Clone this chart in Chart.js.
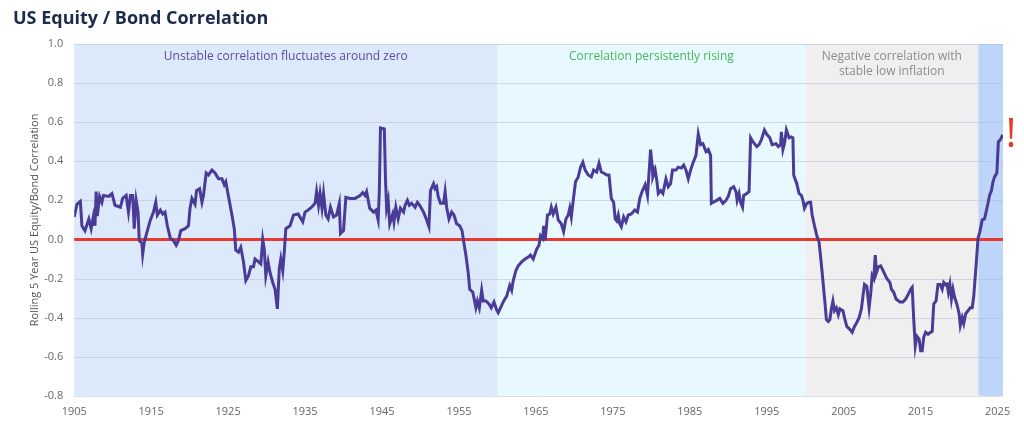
<!DOCTYPE html>
<html>
<head>
<meta charset="utf-8">
<script src="https://cdn.jsdelivr.net/npm/chart.js@4"></script>
<style>
    html, body { margin: 0; padding: 0; background: #fff; }
    #wrap { position: relative; width: 1024px; height: 429px; }
    #title { position: absolute; left: 13px; top: 5px; font: bold 18px "Open Sans", sans-serif; color: #1c2b4b; }
    canvas { position: absolute; left: 0; top: 0; }
</style>
</head>
<body>
<div id="wrap">
    <canvas id="chart" width="1024" height="429"></canvas>
    <div id="title">US Equity / Bond Correlation</div>
</div>
<script>
const years = [
    1905.0, 1905.35, 1905.8, 1906.0, 1906.4, 1906.9, 1907.2, 1907.5, 1907.7, 1907.85, 1908.0, 1908.3, 1908.6, 1908.8,
    1909.5, 1909.9, 1910.3, 1911.0, 1911.3, 1911.75, 1912.05, 1912.3, 1912.6, 1912.8, 1913.05, 1913.3, 1913.45, 1913.8,
    1913.9, 1914.1, 1914.4, 1914.9, 1915.3, 1915.6, 1915.8, 1916.2, 1916.5, 1916.8, 1917.1, 1917.5, 1917.9, 1918.25,
    1918.55, 1918.85, 1919.4, 1919.85, 1920.05, 1920.3, 1920.7, 1920.9, 1921.3, 1921.6, 1921.8, 1922.15, 1922.45, 1922.9,
    1923.3, 1923.75, 1924.2, 1924.5, 1924.7, 1925.05, 1925.5, 1925.8, 1926.0, 1926.35, 1926.65, 1927.0, 1927.3, 1927.65,
    1927.95, 1928.3, 1928.5, 1928.95, 1929.25, 1929.5, 1929.7, 1929.9, 1930.2, 1930.45, 1930.8, 1931.1, 1931.4, 1931.65,
    1931.85, 1932.1, 1932.3, 1932.5, 1933.05, 1933.5, 1934.1,
    1934.7, 1935.0, 1935.4, 1935.85, 1936.3, 1936.5, 1936.75, 1936.95, 1937.2, 1937.4, 1937.7, 1938.0, 1938.3, 1938.7,
    1939.1, 1939.45, 1939.6, 1940.0, 1940.3, 1940.85, 1941.5, 1942.15, 1942.5, 1942.8, 1943.0, 1943.4, 1943.9, 1944.2,
    1944.5, 1944.65, 1944.8, 1945.3, 1945.45, 1945.6, 1945.8, 1946.0, 1946.4, 1946.55, 1946.8, 1947.1, 1947.4, 1947.8,
    1948.0, 1948.3, 1948.55, 1948.85, 1949.3, 1949.6, 1949.9, 1950.4, 1950.8, 1951.1, 1951.3, 1951.7, 1951.9, 1952.1,
    1952.3, 1952.6, 1953.0, 1953.2, 1953.4, 1953.7, 1954.05, 1954.35, 1954.7, 1955.1, 1955.4, 1955.65, 1955.9, 1956.2,
    1956.4, 1956.8, 1956.95, 1957.2, 1957.4, 1957.65, 1957.95, 1958.15, 1958.5, 1958.9, 1959.2, 1959.55, 1959.9, 1960.1,
    1960.4, 1960.75, 1961.2, 1961.6, 1961.85, 1962.05, 1962.4, 1962.7, 1963.15, 1963.6, 1964.0, 1964.3, 1964.65,
    1965.1, 1965.4, 1965.6, 1965.9, 1966.0, 1966.2, 1966.5, 1966.8, 1967.0, 1967.25, 1967.6, 1967.9, 1968.3, 1968.6,
    1968.9, 1969.2, 1969.4, 1969.6, 1969.85, 1970.15, 1970.5, 1970.8, 1971.1, 1971.4, 1971.8, 1972.2, 1972.5, 1972.9,
    1973.2, 1973.5, 1973.8, 1974.2, 1974.5, 1974.8, 1975.1, 1975.3, 1975.5, 1975.7, 1975.9, 1976.1, 1976.4, 1976.7,
    1977.0, 1977.4, 1977.85, 1978.2, 1978.5, 1978.85, 1979.2, 1979.5, 1979.7, 1979.9, 1980.1, 1980.2, 1980.5, 1980.7,
    1980.9, 1981.2, 1981.5, 1981.9, 1982.2, 1982.5, 1982.75, 1983.2, 1983.5, 1983.9, 1984.2, 1984.5, 1984.8, 1985.1,
    1985.4, 1985.8, 1986.1, 1986.4, 1986.7, 1987.1, 1987.4, 1987.7, 1987.8, 1988.0, 1988.5, 1988.9, 1989.3, 1989.7,
    1990.0, 1990.3, 1990.7, 1991.0, 1991.15, 1991.4, 1991.6, 1991.85, 1992.0, 1992.4, 1992.7, 1992.9, 1993.2, 1993.7,
    1994.0, 1994.3, 1994.7, 1995.05,
    1995.4, 1995.7, 1996.2, 1996.5, 1996.8, 1996.9, 1997.1, 1997.3, 1997.55, 1997.9, 1998.2, 1998.4, 1998.5, 1998.8,
    1998.9, 1999.2, 1999.5, 1999.7, 1999.9, 2000.2, 2000.5, 2000.7, 2000.9, 2001.2, 2001.5, 2001.8, 2002.0, 2002.2,
    2002.4, 2002.6, 2002.75, 2003.0, 2003.2, 2003.4, 2003.6, 2003.8, 2004.05, 2004.3, 2004.5, 2004.9, 2005.1, 2005.4,
    2005.8, 2006.1, 2006.4, 2006.7, 2007.0, 2007.3, 2007.5, 2007.7, 2008.0, 2008.3, 2008.5, 2008.7, 2008.9, 2009.1,
    2009.25, 2009.5, 2009.8, 2010.0, 2010.3, 2010.6, 2011.0, 2011.2, 2011.5, 2011.8, 2012.3, 2012.7, 2013.05, 2013.4,
    2013.7, 2013.9, 2014.1, 2014.3, 2014.5, 2014.8, 2015.0, 2015.2, 2015.4, 2015.65, 2015.95, 2016.3, 2016.5, 2016.7,
    2017.0, 2017.25, 2017.55, 2017.8, 2018.0, 2018.3, 2018.4, 2018.6, 2018.8, 2019.0, 2019.2, 2019.4, 2019.7, 2020.0,
    2020.15, 2020.4, 2020.6, 2020.85, 2021.15, 2021.45, 2021.7, 2021.9, 2022.15, 2022.3, 2022.45, 2022.7, 2023.0, 2023.3,
    2023.5, 2023.75, 2023.95, 2024.2, 2024.4, 2024.6, 2024.9, 2025.1, 2025.35, 2025.65
];

const correlation = [
    0.115, 0.18, 0.195, 0.07, 0.045, 0.105, 0.055, 0.12, 0.07, 0.245, 0.12, 0.22, 0.19, 0.225,
    0.22, 0.235, 0.175, 0.165, 0.21, 0.225, 0.14, 0.225, 0.225, 0.055, 0.2, 0.14, -0.005, -0.02,
    -0.075, -0.015, 0.03, 0.1, 0.14, 0.19, 0.125, 0.15, 0.13, 0.14, 0.07, 0.005, -0.005, -0.03,
    -0.005, 0.045, 0.055, 0.07, 0.16, 0.21, 0.18, 0.25, 0.26, 0.19, 0.225, 0.34, 0.33, 0.355,
    0.34, 0.31, 0.31, 0.28, 0.295, 0.22, 0.125, 0.055, -0.055, -0.065, -0.04, -0.115, -0.21, -0.185,
    -0.14, -0.14, -0.1, -0.115, -0.125, 0.0, -0.05, -0.185, -0.115, -0.17, -0.22, -0.255, -0.355, -0.15,
    -0.1, -0.16, -0.065, 0.055, 0.07, 0.125, 0.13,
    0.09, 0.14, 0.15, 0.165, 0.185, 0.245, 0.175, 0.235, 0.16, 0.235, 0.125, 0.105, 0.165, 0.115,
    0.125, 0.185, 0.03, 0.045, 0.215, 0.21, 0.21, 0.225, 0.24, 0.225, 0.245, 0.16, 0.14, 0.15,
    0.1, 0.245, 0.57, 0.565, 0.31, 0.16, 0.2, 0.08, 0.13, 0.09, 0.165, 0.105, 0.16, 0.14,
    0.175, 0.2, 0.175, 0.185, 0.165, 0.19, 0.175, 0.14, 0.1, 0.065, 0.25, 0.285, 0.26, 0.27,
    0.22, 0.185, 0.185, 0.245, 0.165, 0.105, 0.14, 0.125, 0.08, 0.07, 0.045, -0.02, -0.08, -0.17,
    -0.255, -0.27, -0.3, -0.35, -0.315, -0.35, -0.26, -0.315, -0.315, -0.33, -0.35, -0.32, -0.36, -0.375,
    -0.35, -0.32, -0.29, -0.235, -0.26, -0.21, -0.16, -0.135, -0.115, -0.1, -0.09, -0.08, -0.1,
    -0.05, -0.03, 0.02, 0.005, 0.07, -0.005, 0.125, 0.13, 0.165, 0.13, 0.165, 0.1, 0.08, 0.04,
    0.105, 0.125, 0.16, 0.115, 0.2, 0.295, 0.32, 0.37, 0.395, 0.355, 0.33, 0.32, 0.355, 0.345,
    0.39, 0.345, 0.34, 0.33, 0.33, 0.21, 0.19, 0.105, 0.095, 0.125, 0.08, 0.065, 0.115, 0.09,
    0.125, 0.13, 0.15, 0.14, 0.21, 0.25, 0.28, 0.225, 0.34, 0.46, 0.38, 0.32, 0.355, 0.305,
    0.235, 0.25, 0.235, 0.31, 0.27, 0.285, 0.355, 0.355, 0.37, 0.365, 0.38, 0.355, 0.31, 0.355,
    0.39, 0.43, 0.54, 0.485, 0.49, 0.45, 0.46, 0.43, 0.185, 0.19, 0.2, 0.21, 0.185, 0.2,
    0.22, 0.26, 0.27, 0.245, 0.2, 0.235, 0.19, 0.165, 0.225, 0.235, 0.245, 0.52, 0.5, 0.475,
    0.485, 0.51, 0.56, 0.535,
    0.52, 0.485, 0.49, 0.475, 0.485, 0.55, 0.46, 0.49, 0.56, 0.52, 0.525, 0.52, 0.33, 0.295,
    0.285, 0.235, 0.225, 0.2, 0.16, 0.185, 0.19, 0.19, 0.125, 0.07, 0.02, -0.015, -0.09, -0.17,
    -0.255, -0.34, -0.41, -0.42, -0.41, -0.355, -0.315, -0.365, -0.35, -0.385, -0.355, -0.365, -0.4, -0.445,
    -0.46, -0.475, -0.445, -0.425, -0.4, -0.355, -0.29, -0.23, -0.24, -0.35, -0.28, -0.185, -0.2, -0.08,
    -0.17, -0.14, -0.135, -0.15, -0.175, -0.2, -0.22, -0.255, -0.27, -0.305, -0.32, -0.32, -0.305, -0.28,
    -0.255, -0.245, -0.41, -0.545, -0.495, -0.51, -0.57, -0.57, -0.5, -0.475, -0.485, -0.475, -0.47, -0.33,
    -0.315, -0.23, -0.23, -0.255, -0.22, -0.235, -0.22, -0.27, -0.23, -0.305, -0.255, -0.295, -0.33, -0.38,
    -0.44, -0.4, -0.43, -0.38, -0.365, -0.35, -0.35, -0.29, -0.16, -0.08, 0.005, 0.04, 0.1, 0.105,
    0.14, 0.185, 0.225, 0.25, 0.295, 0.32, 0.34, 0.5, 0.51, 0.535
];

const tickYears = [1905, 1915, 1925, 1935, 1945, 1955, 1965, 1975, 1985, 1995, 2005, 2015, 2025];
const bandEdges = [1905, 1960, 2000, 2022.5, 2025.7];
const bandLabels = [
    ['Unstable correlation fluctuates around zero'],
    ['Correlation persistently rising'],
    ['Negative correlation with', 'stable low inflation'],
    []
];

const bandFills = ['#dce9fb', '#e7f9fe', '#efefef', '#bcd5f8'];
const bandTextColors = ['#5b4ba3', '#45b85c', '#8c8c8c', '#8c8c8c'];
const FONT = '"Open Sans", sans-serif';

// shaded periods behind the line, with their captions
const bandsPlugin = {
    id: 'bands',
    beforeDatasetsDraw(chart) {
        const { ctx, chartArea, scales } = chart;
        const x = scales.x;
        ctx.save();
        for (let i = 0; i < bandFills.length; i++) {
            const x0 = x.getPixelForValue(bandEdges[i]);
            const x1 = x.getPixelForValue(bandEdges[i + 1]);
            ctx.fillStyle = bandFills[i];
            ctx.fillRect(x0, chartArea.top, x1 - x0, chartArea.bottom - chartArea.top);
        }
        // redraw horizontal grid over the fills
        const y = scales.y;
        ctx.strokeStyle = 'rgba(170, 185, 205, 0.45)';
        ctx.lineWidth = 1;
        y.ticks.forEach(t => {
            const py = Math.round(y.getPixelForValue(t.value)) + 0.5;
            ctx.beginPath();
            ctx.moveTo(chartArea.left, py);
            ctx.lineTo(chartArea.right, py);
            ctx.stroke();
        });
        ctx.font = '12px ' + FONT;
        ctx.textAlign = 'center';
        ctx.textBaseline = 'middle';
        for (let i = 0; i < bandLabels.length; i++) {
            const cx = x.getPixelForValue((bandEdges[i] + bandEdges[i + 1]) / 2);
            ctx.fillStyle = bandTextColors[i];
            bandLabels[i].forEach((line, j) => {
                ctx.fillText(line, cx, chartArea.top + 13 + j * 15);
            });
        }
        // zero line
        const y0 = y.getPixelForValue(0);
        ctx.strokeStyle = '#e8392c';
        ctx.lineWidth = 3;
        ctx.beginPath();
        ctx.moveTo(chartArea.left, y0);
        ctx.lineTo(chartArea.right, y0);
        ctx.stroke();
        ctx.restore();
    },
    afterDatasetsDraw(chart) {
        const { ctx, chartArea, scales } = chart;
        const last = correlation[correlation.length - 1];
        ctx.save();
        ctx.fillStyle = '#e8392c';
        ctx.font = '40px ' + FONT;
        ctx.textAlign = 'center';
        ctx.textBaseline = 'middle';
        ctx.fillText('!', chartArea.right + 8, scales.y.getPixelForValue(last) + 1);
        ctx.restore();
    }
};

const points = years.map((yr, i) => ({ x: yr, y: correlation[i] }));

new Chart(document.getElementById('chart'), {
    type: 'line',
    data: {
        datasets: [{
            data: points,
            borderColor: '#4a3b96',
            borderWidth: 3,
            pointRadius: 0,
            tension: 0,
            fill: false
        }]
    },
    options: {
        responsive: false,
        animation: false,
        layout: { padding: { top: 44, right: 21, bottom: 2, left: 24 } },
        plugins: {
            legend: { display: false },
            tooltip: { enabled: false }
        },
        scales: {
            x: {
                type: 'linear',
                min: bandEdges[0],
                max: bandEdges[bandEdges.length - 1],
                afterBuildTicks: scale => { scale.ticks = tickYears.map(v => ({ value: v })); },
                grid: { display: false, drawTicks: false },
                border: { display: false },
                ticks: {
                    padding: 9,
                    color: '#666',
                    maxRotation: 0,
                    autoSkip: false,
                    font: { family: FONT, size: 11 },
                    callback: v => String(v)
                }
            },
            y: {
                min: -0.8,
                max: 1.0,
                grid: { display: false, drawTicks: false },
                border: { display: false },
                ticks: {
                    stepSize: 0.2,
                    padding: 11,
                    color: '#666',
                    font: { family: FONT, size: 11 },
                    callback: v => v.toFixed(1)
                },
                title: {
                    display: true,
                    text: 'Rolling 5 Year US Equity/Bond Correlation',
                    color: '#555',
                    padding: { top: 4, bottom: -8 },
                    font: { family: FONT, size: 11 }
                }
            }
        }
    },
    plugins: [bandsPlugin]
});
</script>
</body>
</html>
